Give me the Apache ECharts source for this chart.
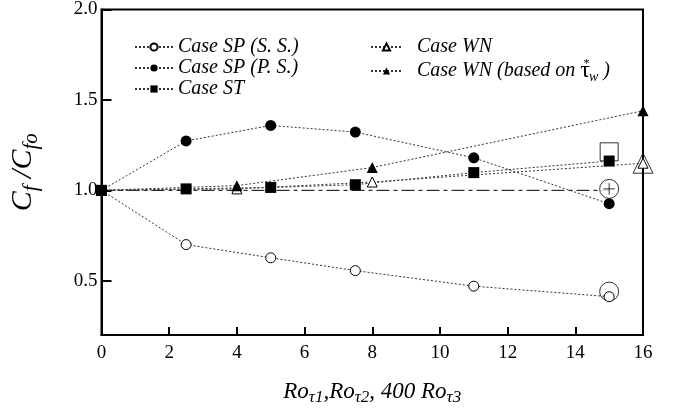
<!DOCTYPE html>
<html>
<head>
<meta charset="utf-8">
<script src="https://cdn.jsdelivr.net/npm/echarts@6/dist/echarts.min.js"></script>
<style>
  html, body { margin: 0; padding: 0; background: #fff; }
  #chart { width: 679px; height: 411px; }
</style>
</head>
<body>
<div id="chart"></div>
<script>
// rotation numbers on x, Cf/Cfo on y
var xSP = [0, 2.5, 5, 7.5, 11, 15];
var spSS = [1.0, 0.70, 0.627, 0.556, 0.47, 0.412];
var spPS = [1.0, 1.273, 1.359, 1.322, 1.18, 0.926];
var caseST = [1.0, 1.008, 1.016, 1.031, 1.098, 1.162];
var xWN = [0, 4, 8, 16];
var caseWN = [1.0, 1.008, 1.046, 1.15];
var caseWNtau = [1.0, 1.026, 1.126, 1.44];
var refLine = [[0, 1.0], [15, 1.0]];
// large open markers drawn at the ends
var bigCircle = [[15, 0.44]];
var circlePlus = [[15, 1.008]];
var bigSquare = [[15, 1.213]];
var bigTriangle = [[16, 1.15]];
var yTicks = [0.5, 1.0, 1.5, 2.0];

var FONT = 'Liberation Serif';
var circlePlusPath = 'path://M0,-10A10,10 0 1,1 0,10A10,10 0 1,1 0,-10ZM-6,0L6,0M0,-6L0,6';

function pairs(xs, ys) {
    return xs.map(function (x, i) { return [x, ys[i]]; });
}

var dotted = { color: '#333', width: 1, type: [2, 2] };
var openStyle = { color: '#fff', borderColor: '#000', borderWidth: 1 };
var fillStyle = { color: '#000' };

var chart = echarts.init(document.getElementById('chart'));
var option = {
    backgroundColor: '#fff',
    animation: false,
    textStyle: { fontFamily: FONT },
    grid: {
        left: 100, right: 36, top: 7.5, bottom: 74.5,
        show: true, borderColor: '#000', borderWidth: 2
    },
    legend: [
        {
            data: ['SS', 'PS', 'ST'],
            orient: 'vertical',
            left: 129, top: 32,
            itemWidth: 38, itemHeight: 9, itemGap: 1,
            formatter: function (n) {
                return { SS: 'Case SP (S. S.)', PS: 'Case SP (P. S.)', ST: 'Case ST' }[n];
            },
            textStyle: { fontFamily: FONT, fontStyle: 'italic', fontSize: 20, color: '#000', lineHeight: 19 }
        },
        {
            data: ['WN', 'WNT'],
            orient: 'vertical',
            left: 365, top: 32,
            itemWidth: 31, itemHeight: 9, itemGap: 1,
            formatter: function (n) {
                return n === 'WN' ? 'Case WN' : 'Case WN (based on {t|τ}{sup|*}{sub|w} )';
            },
            textStyle: {
                fontFamily: FONT, fontStyle: 'italic', fontSize: 20, color: '#000', lineHeight: 19,
                padding: [0, 0, 0, 10],
                rich: {
                    t: { fontFamily: FONT, fontSize: 24, fontStyle: 'normal', color: '#000' },
                    sup: { fontFamily: FONT, fontSize: 12, color: '#000', padding: [0, 0, 14, -7] },
                    sub: { fontFamily: FONT, fontStyle: 'italic', fontSize: 14, color: '#000', padding: [12, 0, 0, 0] }
                }
            }
        }
    ],
    xAxis: {
        type: 'value',
        min: 0, max: 16, interval: 2,
        name: 'Ro{s|τ1},Ro{s|τ2}, 400 Ro{s|τ3}',
        nameLocation: 'middle',
        nameGap: 42,
        nameTextStyle: {
            fontFamily: FONT, fontStyle: 'italic', fontSize: 23, color: '#000',
            rich: {
                s: { fontFamily: FONT, fontStyle: 'italic', fontSize: 17, color: '#000', padding: [12, 0, 0, 0] }
            }
        },
        axisLine: { lineStyle: { color: '#000', width: 2 } },
        axisTick: { inside: true, length: 8, lineStyle: { color: '#000', width: 2 } },
        axisLabel: { fontFamily: FONT, fontSize: 19, color: '#000', margin: 9 },
        splitLine: { show: false }
    },
    yAxis: {
        type: 'value',
        min: 0.2, max: 2.0,
        name: 'C{s|f} /C{s|fo}',
        nameLocation: 'middle',
        nameRotate: 90,
        nameGap: 60,
        nameTextStyle: {
            fontFamily: FONT, fontStyle: 'italic', fontSize: 30, color: '#000',
            rich: {
                s: { fontFamily: FONT, fontStyle: 'italic', fontSize: 21, color: '#000', padding: [16, 0, 0, 0] }
            }
        },
        axisLine: { lineStyle: { color: '#000', width: 2 } },
        axisTick: { inside: true, length: 10, customValues: yTicks, lineStyle: { color: '#000', width: 2 } },
        axisLabel: {
            fontFamily: FONT, fontSize: 19, color: '#000', margin: 4,
            customValues: yTicks,
            formatter: function (v) { return v.toFixed(1); }
        },
        splitLine: { show: false }
    },
    series: [
        {
            name: 'REF', type: 'line', data: refLine, symbol: 'none',
            lineStyle: { color: '#000', width: 1, type: [13, 4, 4, 4] }, z: 1
        },
        {
            name: 'SS', type: 'line', data: pairs(xSP, spSS), clip: false,
            symbol: 'circle', symbolSize: 10, showAllSymbol: true,
            lineStyle: dotted, itemStyle: openStyle
        },
        {
            name: 'PS', type: 'line', data: pairs(xSP, spPS), clip: false,
            symbol: 'circle', symbolSize: 11,
            lineStyle: dotted, itemStyle: fillStyle
        },
        {
            name: 'ST', type: 'line', data: pairs(xSP, caseST), clip: false,
            symbol: 'rect', symbolSize: 11,
            lineStyle: dotted, itemStyle: fillStyle
        },
        {
            name: 'WN', type: 'line', data: pairs(xWN, caseWN), clip: false,
            symbol: 'triangle', symbolSize: 10,
            lineStyle: dotted, itemStyle: openStyle
        },
        {
            name: 'WNT', type: 'line', data: pairs(xWN, caseWNtau), clip: false,
            symbol: 'triangle', symbolSize: 11,
            lineStyle: dotted, itemStyle: fillStyle
        },
        {
            name: 'bigC', type: 'scatter', data: bigCircle, clip: false, z: 1,
            symbol: 'circle', symbolSize: 19, itemStyle: { color: 'rgba(0,0,0,0)', borderColor: '#000', borderWidth: 1 }
        },
        {
            name: 'cPlus', type: 'scatter', data: circlePlus, clip: false,
            symbol: circlePlusPath, symbolSize: 19, itemStyle: { color: '#fff', borderColor: '#000', borderWidth: 1 }
        },
        {
            name: 'bigS', type: 'scatter', data: bigSquare, clip: false, z: 1,
            symbol: 'rect', symbolSize: 18, itemStyle: { color: 'rgba(0,0,0,0)', borderColor: '#000', borderWidth: 1 }
        },
        {
            name: 'bigT', type: 'scatter', data: bigTriangle, clip: false, z: 1,
            symbol: 'triangle', symbolSize: 20, itemStyle: { color: 'rgba(0,0,0,0)', borderColor: '#000', borderWidth: 1 }
        }
    ]
};
chart.setOption(option);
</script>
</body>
</html>
